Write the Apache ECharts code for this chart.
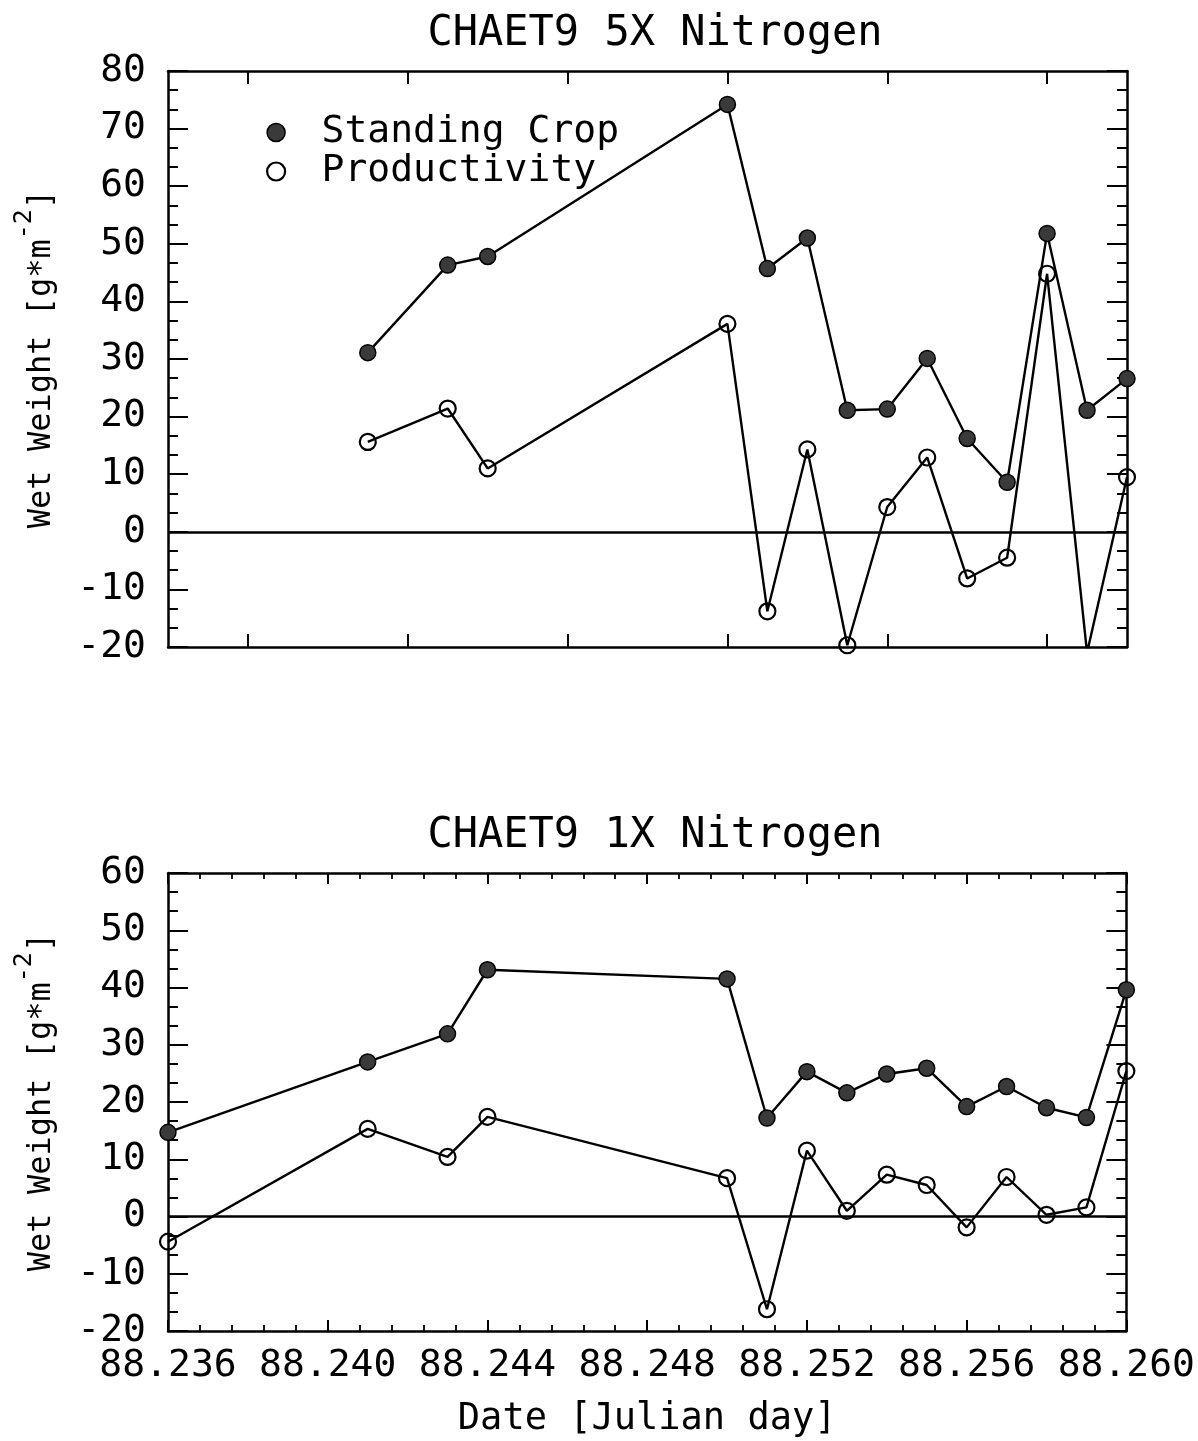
<!DOCTYPE html>
<html>
<head>
<meta charset="utf-8">
<title>CHAET9 Nitrogen</title>
<script src="https://cdn.jsdelivr.net/npm/echarts@6/dist/echarts.min.js"></script>
<style>
  html, body { margin: 0; padding: 0; background: #fff; }
  #chart { width: 1198px; height: 1441px; }
</style>
</head>
<body>
<div id="chart"></div>
<script>
// Sampling dates (Julian day) and wet weights for the two nitrogen treatments
const dates5x = [88.241, 88.243, 88.244, 88.250, 88.251, 88.252, 88.253, 88.254, 88.255, 88.256, 88.257, 88.258, 88.259, 88.260];
const standing5x = [31.1, 46.3, 47.8, 74.2, 45.7, 51.0, 21.1, 21.3, 30.1, 16.2, 8.6, 51.8, 21.1, 26.6];
const productivity5x = [15.6, 21.4, 11.0, 36.1, -13.8, 14.3, -19.7, 4.3, 12.9, -8.1, -4.5, 44.8, -21.0, 9.5];

const dates1x = [88.236, 88.241, 88.243, 88.244, 88.250, 88.251, 88.252, 88.253, 88.254, 88.255, 88.256, 88.257, 88.258, 88.259, 88.260];
const standing1x = [14.7, 27.0, 31.9, 43.1, 41.5, 17.2, 25.3, 21.6, 24.9, 25.9, 19.2, 22.7, 19.0, 17.3, 39.6];
const productivity1x = [-4.4, 15.3, 10.4, 17.4, 6.7, -16.2, 11.5, 1.0, 7.3, 5.5, -1.9, 6.9, 0.3, 1.6, 25.4];

// Axis ticks
const dateTicks = [88.236, 88.240, 88.244, 88.248, 88.252, 88.256, 88.260];
const dateTicks5x = [88.238, 88.242, 88.246, 88.250, 88.254, 88.258];
const titles = ['CHAET9 5X Nitrogen', 'CHAET9 1X Nitrogen'];
const seriesNames = ['Standing Crop', 'Productivity'];
const yRange5x = [-20, 80];
const yRange1x = [-20, 60];

const FONT = 'DejaVu Sans Mono';
const INK = '#000';

const chart = echarts.init(document.getElementById('chart'), null, { renderer: 'canvas' });

const pairs = (xs, ys) => xs.map((x, i) => [x, ys[i]]);

const grids = [
  { left: 168, right: 71, top: 71, height: 576 },
  { left: 168, right: 71, top: 873, height: 458 }
];

const yName = '{t|Wet Weight [g*m}{s|-2}{t|]}';
const yNameStyle = {
  color: INK,
  rich: {
    t: { fontFamily: FONT, fontSize: 32, lineHeight: 32, verticalAlign: 'bottom', color: INK },
    s: { fontFamily: FONT, fontSize: 25, lineHeight: 46, verticalAlign: 'top', color: INK }
  }
};

function xAxisPair(gridIndex, withLabels) {
  const base = {
    type: 'value',
    gridIndex,
    min: dateTicks[0],
    max: dateTicks[dateTicks.length - 1],
    interval: 0.004,
    splitLine: { show: false },
    axisLine: { onZero: false, lineStyle: { color: INK, width: 2.5 } }
  };
  const tick = withLabels
    ? { show: true, inside: true, length: 11, lineStyle: { color: INK, width: 2 } }
    : { show: true, inside: true, length: 13, customValues: dateTicks5x, lineStyle: { color: INK, width: 2 } };
  const minor = withLabels
    ? { show: true, splitNumber: 5, length: 6, lineStyle: { color: INK, width: 1.8 } }
    : { show: false };
  return [
    Object.assign({}, base, {
      position: 'bottom',
      axisTick: tick,
      minorTick: minor,
      axisLabel: withLabels ? {
        show: true, margin: 16, fontFamily: FONT, fontSize: 38, color: INK,
        customValues: dateTicks,
        formatter: v => v.toFixed(3)
      } : { show: false },
      name: withLabels ? 'Date [Julian day]' : '',
      nameLocation: 'middle',
      nameGap: 70,
      nameTextStyle: { fontFamily: FONT, fontSize: 37, color: INK }
    }),
    Object.assign({}, base, {
      position: 'top',
      axisTick: tick,
      minorTick: minor,
      axisLabel: { show: false }
    })
  ];
}

function yAxisPair(gridIndex, range) {
  const base = {
    type: 'value',
    gridIndex,
    min: range[0],
    max: range[1],
    interval: 10,
    splitLine: { show: false },
    axisLine: { onZero: false, lineStyle: { color: INK, width: 2.5 } },
    axisTick: { show: true, inside: true, length: 20, lineStyle: { color: INK, width: 2 } },
    minorTick: { show: true, splitNumber: 3, length: 10, lineStyle: { color: INK, width: 2 } }
  };
  return [
    Object.assign({}, base, {
      position: 'left',
      axisLabel: { show: true, margin: 22, fontFamily: FONT, fontSize: 38, color: INK },
      name: yName,
      nameLocation: 'middle',
      nameGap: 110,
      nameTextStyle: yNameStyle
    }),
    Object.assign({}, base, {
      position: 'right',
      axisLabel: { show: false }
    })
  ];
}

const filledStyle = { color: '#3a3a3a', borderColor: INK, borderWidth: 1.5 };
const openStyle = { color: 'rgba(255,255,255,0)', borderColor: INK, borderWidth: 2.2 };

function lineSeries(name, xs, ys, axisIdx, style, withZero) {
  const s = {
    name,
    type: 'line',
    xAxisIndex: axisIdx,
    yAxisIndex: axisIdx,
    data: pairs(xs, ys),
    symbol: 'circle',
    symbolSize: 16,
    clip: true,
    itemStyle: style,
    lineStyle: { color: INK, width: 2.4 },
    emphasis: { disabled: true },
    animation: false,
    z: 3
  };
  if (withZero) {
    s.markLine = {
      silent: true,
      symbol: 'none',
      label: { show: false },
      lineStyle: { color: INK, width: 2.5, type: 'solid' },
      data: [{ yAxis: 0 }],
      animation: false
    };
  }
  return s;
}

const x5 = xAxisPair(0, false);
const x1 = xAxisPair(1, true);
const y5 = yAxisPair(0, yRange5x);
const y1 = yAxisPair(1, yRange1x);

const option = {
  backgroundColor: '#fff',
  animation: false,
  title: [
    { text: titles[0], left: 650, top: 8, textAlign: 'center',
      textStyle: { fontFamily: FONT, fontSize: 42, fontWeight: 'normal', color: INK } },
    { text: titles[1], left: 650, top: 810, textAlign: 'center',
      textStyle: { fontFamily: FONT, fontSize: 42, fontWeight: 'normal', color: INK } }
  ],
  legend: {
    orient: 'vertical',
    left: 261,
    top: 108,
    icon: 'circle',
    itemHeight: 18,
    itemGap: 0,
    selectedMode: false,
    textStyle: { fontFamily: FONT, fontSize: 38, lineHeight: 39, color: INK, padding: [0, 0, 0, 28] },
    data: [
      { name: seriesNames[0], itemStyle: filledStyle },
      { name: seriesNames[1], itemStyle: openStyle }
    ]
  },
  grid: grids,
  // axis order: 0 = 5X bottom/left, 1 = 1X bottom/left, 2/3 = frame axes
  xAxis: [x5[0], x1[0], x5[1], x1[1]],
  yAxis: [y5[0], y1[0], y5[1], y1[1]],
  series: [
    lineSeries(seriesNames[0], dates5x, standing5x, 0, filledStyle, true),
    lineSeries(seriesNames[1], dates5x, productivity5x, 0, openStyle, false),
    lineSeries(seriesNames[0], dates1x, standing1x, 1, filledStyle, true),
    lineSeries(seriesNames[1], dates1x, productivity1x, 1, openStyle, false)
  ]
};

chart.setOption(option);
</script>
</body>
</html>
